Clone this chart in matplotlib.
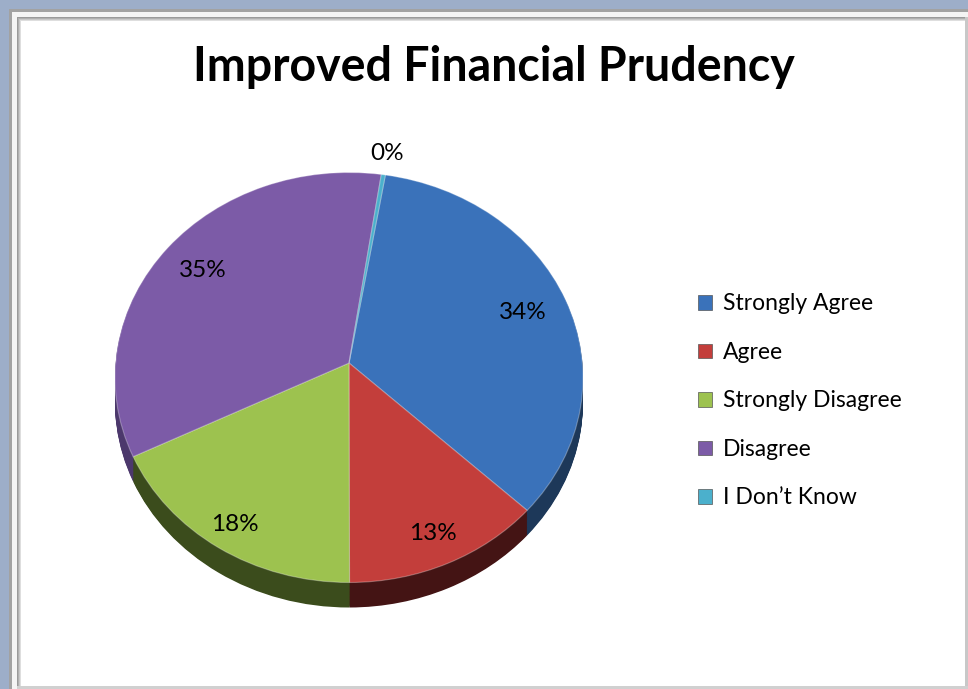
import matplotlib
matplotlib.use("Agg")
import matplotlib.pyplot as plt
from matplotlib.patches import Rectangle
from matplotlib.transforms import Transform
import numpy as np

# ---- data ----
categories = ["Strongly Agree", "Agree", "Strongly Disagree", "Disagree", "I Don\u2019t Know"]
values = [34.4, 12.9, 17.7, 34.7, 0.3]
title = "Improved Financial Prudency"

top_colors = ["#3a72ba", "#c33e3b", "#9dc24f", "#7c5ba7", "#4bb0cc"]
side_colors = ["#1d3859", "#441414", "#3b4c1c", "#4c386c", "#2a6a80"]


class Persp(Transform):
    """Simple perspective tilt: near (lower) half appears larger."""
    input_dims = 2
    output_dims = 2

    def __init__(self, k, dy=0.0):
        super().__init__()
        self.k = k
        self.dy = dy
        self.a = np.sqrt(1 - k * k)

    def transform_non_affine(self, xy):
        xy = np.asarray(xy, dtype=float)
        x, y = xy[:, 0], xy[:, 1]
        d = 1 + self.k * y
        return np.column_stack([self.a * x / d, (y + self.k) / d - self.dy])


W, H = 968, 689
fig = plt.figure(figsize=(W / 100, H / 100), dpi=100)
fig.patch.set_facecolor("white")

# ---- frame (background axes in pixel coords) ----
bg = fig.add_axes([0, 0, 1, 1])
bg.set_xlim(0, W)
bg.set_ylim(H, 0)
bg.axis("off")
bg.add_patch(Rectangle((0, 0), W, 9, color="#9daec9", lw=0))
bg.add_patch(Rectangle((0, 0), 9, H, color="#9daec9", lw=0))
bg.add_patch(Rectangle((9, 9), W, 3, color="#a2a2a2", lw=0))
bg.add_patch(Rectangle((9, 9), 3, H, color="#a2a2a2", lw=0))
bg.add_patch(Rectangle((12, 12), W, 5, color="#f4f4f4", lw=0))
bg.add_patch(Rectangle((12, 12), 5, H, color="#f4f4f4", lw=0))
for i, c in enumerate(["#9a9a9a", "#b0b0b0", "#c8c8c8", "#dedede"]):
    bg.add_patch(Rectangle((17 + i, 17 + i), W, 1, color=c, lw=0))
    bg.add_patch(Rectangle((17 + i, 17 + i), 1, H, color=c, lw=0))
bg.add_patch(Rectangle((965, 17), 3, H, color="#c8c8c8", lw=0))
bg.add_patch(Rectangle((17, 686), W, 3, color="#d0d0d0", lw=0))

# ---- pie axes (ellipse centre, radii in pixels) ----
cx, cy, rx, ry = 349, 377.5, 234, 205
ext = 1.5
ax = fig.add_axes([(cx - ext * rx) / W, (H - (cy + ext * ry)) / H,
                   2 * ext * rx / W, 2 * ext * ry / H])
ax.axis("off")

k = 0.0707
startangle = 80.4
depth = 25 / ry
nlayers = 30
for i in range(nlayers, 0, -1):
    off = depth * i / nlayers
    ws, _ = ax.pie(values, colors=side_colors, startangle=startangle,
                   counterclock=False, radius=1.0,
                   wedgeprops=dict(linewidth=0), frame=True)
    tr = Persp(k, off) + ax.transData
    for w in ws:
        w.set_transform(tr)

wedges, _ = ax.pie(values, colors=top_colors, startangle=startangle,
                   counterclock=False, radius=1.0,
                   wedgeprops=dict(linewidth=0.8, edgecolor=(1, 1, 1, 0.3)),
                   frame=True)
top_tr = Persp(k, 0.0)
for w in wedges:
    w.set_transform(top_tr + ax.transData)

ax.set_xlim(-ext, ext)
ax.set_ylim(-ext, ext)
ax.set_aspect("auto")
ax.axis("off")

# percentage labels
label_r = [0.80, 0.86, 0.88, 0.80, 1.12]
total = sum(values)
for w, v, r in zip(wedges, values, label_r):
    mid = np.deg2rad((w.theta1 + w.theta2) / 2)
    p = top_tr.transform(np.array([[r * np.cos(mid), r * np.sin(mid)]]))[0]
    ax.text(p[0], p[1], f"{v / total * 100:.0f}%", ha="center", va="center",
            fontsize=17.5, family="Lato", color="black")

# title
fig.text(494 / W, 1 - 67 / H, title, ha="center", va="center",
         fontsize=33.5, fontweight="bold", family="Lato")

# legend
leg = fig.legend(wedges, categories, loc="upper left",
                 bbox_to_anchor=(687 / W, 1 - 282 / H),
                 frameon=False, prop=dict(family="Lato", size=16.5),
                 handlelength=0.6, handleheight=0.6, handletextpad=0.45,
                 labelspacing=1.2, borderpad=0)
for h in leg.legend_handles:
    h.set_edgecolor("#555555")
    h.set_linewidth(0.5)

fig.savefig("out.png", dpi=100)
